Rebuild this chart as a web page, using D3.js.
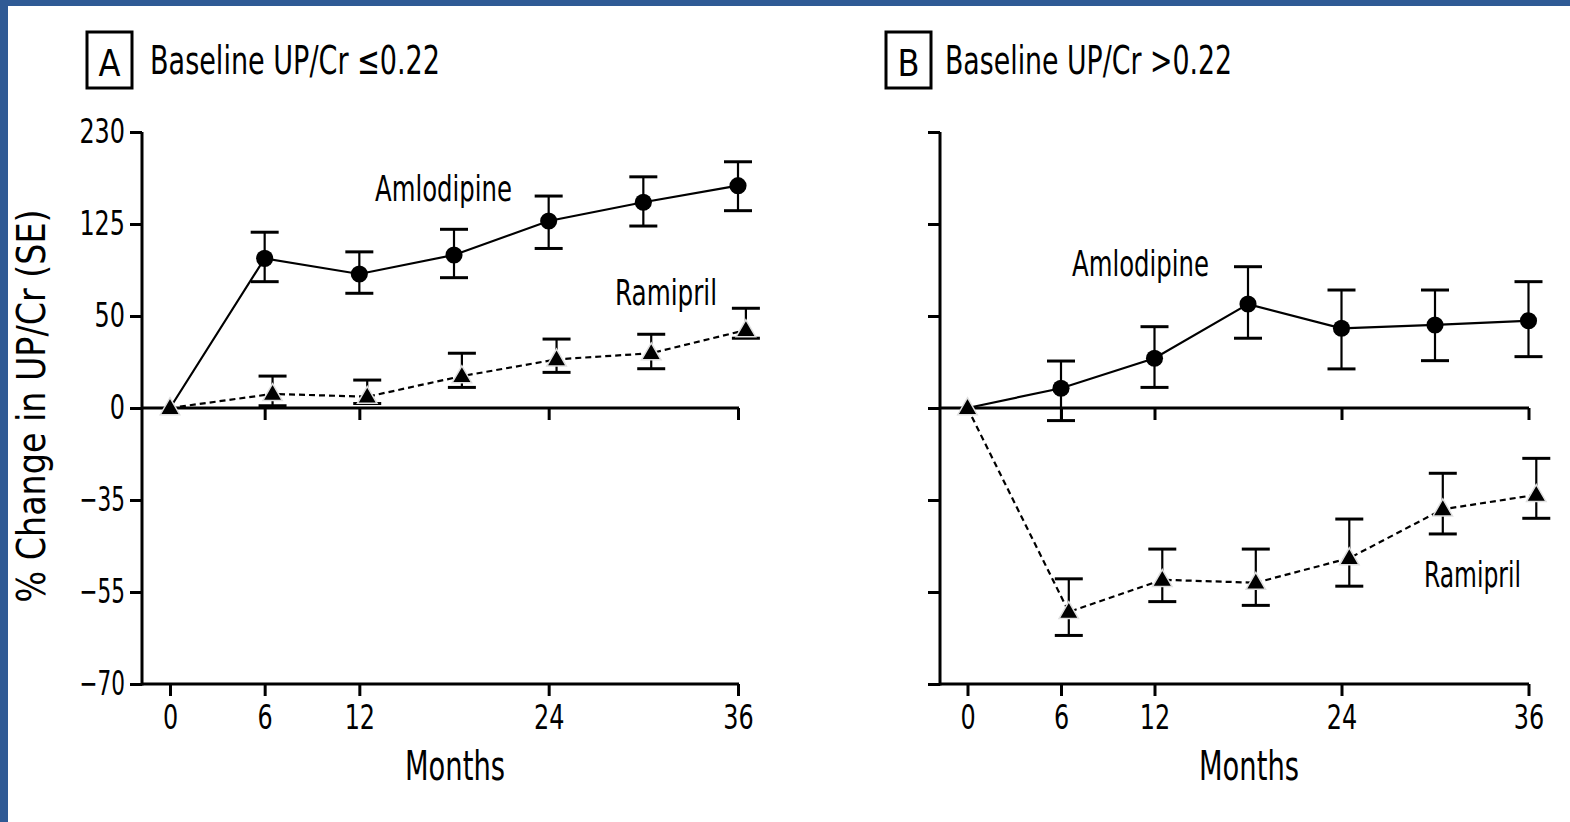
<!DOCTYPE html>
<html>
<head>
<meta charset="utf-8">
<script src="https://cdn.jsdelivr.net/npm/d3@7"></script>
<style>
  html, body { margin: 0; padding: 0; background: #fff; }
  svg { display: block; }
  text { font-family: "Liberation Sans Narrow", "Arial Narrow", "DejaVu Sans Condensed", sans-serif; fill: #000; }
</style>
</head>
<body>
<svg id="chart" width="1570" height="822"></svg>
<script>
// Visit months; ramipril points are nudged half a month right so bars don't overlap
const months = [0, 6, 12, 18, 24, 30, 36];
const ramiprilMonths = [0, 6.5, 12.5, 18.5, 24.5, 30.5, 36.5];
const axisMonths = [0, 6, 12, 24, 36];

// Log-ratio y axis: ticks at powers of 1.5 of (1 + change/100)
const yTickSteps = [3, 2, 1, 0, -1, -2, -3];
const yTickLabels = ["230", "125", "50", "0", "\u221235", "\u221255", "\u221270"];

// Panel A: baseline UP/Cr <= 0.22  (% change, upper and lower SE limits)
const amlodipineA   = [0, 93.4, 80.5, 96.3, 128.0, 147.6, 166.4];
const amlodipineAHi = [null, 117.0, 99.0, 119.8, 154.5, 177.0, 196.0];
const amlodipineALo = [null, 74.5, 65.8, 77.6, 102.0, 123.0, 138.6];
const ramiprilA     = [0, 6.4, 5.1, 15.1, 23.9, 27.3, 41.0];
const ramiprilAHi   = [null, 15.1, 13.1, 27.3, 35.5, 38.4, 55.2];
const ramiprilALo   = [null, 1.0, 2.0, 9.5, 17.0, 18.9, 36.0];

// Panel B: baseline UP/Cr > 0.22
const amlodipineB   = [0, 9.1, 24.5, 58.1, 42.1, 44.2, 46.9];
const amlodipineBHi = [null, 23.0, 43.1, 86.4, 68.2, 68.2, 74.5];
const amlodipineBLo = [null, -5.4, 9.5, 36.0, 18.8, 23.2, 25.4];
const ramiprilB     = [0, -59.3, -53.1, -53.7, -48.4, -36.0, -31.8];
const ramiprilBHi   = [null, -52.9, -46.3, -46.3, -38.7, -25.0, -19.9];
const ramiprilBLo   = [null, -63.3, -57.4, -58.1, -54.4, -42.6, -38.5];

const svg = d3.select("#chart");
svg.append("rect").attr("width", 1570).attr("height", 822).attr("fill", "#fff");
// frame strips
svg.append("rect").attr("x", 0).attr("y", 0).attr("width", 1570).attr("height", 6).attr("fill", "#2f5a95");
svg.append("rect").attr("x", 0).attr("y", 0).attr("width", 8).attr("height", 822).attr("fill", "#2f5a95");

const y = d3.scaleLog().base(1.5).domain([1.5 ** -3, 1.5 ** 3]).range([684, 132]);
const yv = v => y(1 + v / 100);

// narrow numeric labels
const narrow = sel => sel.attr("font-size", 34).attr("font-family", null)
  .attr("lengthAdjust", "spacingAndGlyphs")
  .attr("textLength", function () { return this.textContent.length * 15.2 || null; });

const panels = [
  {
    letter: "A", title: "Baseline UP/Cr \u22640.22",
    xRange: [170, 738], axisX: 142, axisEnd: 739, boxX: 87, titleX: 150, titleLen: 290,
    showYLabels: true, monthsX: 455,
    aml: [amlodipineA, amlodipineAHi, amlodipineALo],
    ram: [ramiprilA, ramiprilAHi, ramiprilALo],
    amlLabel: [375, 201, 137], ramLabel: [615, 305, 102]
  },
  {
    letter: "B", title: "Baseline UP/Cr >0.22",
    xRange: [967.5, 1528.5], axisX: 940, axisEnd: 1529, boxX: 886, titleX: 945, titleLen: 287,
    showYLabels: false, monthsX: 1249,
    aml: [amlodipineB, amlodipineBHi, amlodipineBLo],
    ram: [ramiprilB, ramiprilBHi, ramiprilBLo],
    amlLabel: [1072, 276, 137], ramLabel: [1424, 587, 97]
  }
];

panels.forEach(p => {
  const g = svg.append("g");
  const x = d3.scaleLinear().domain([0, 36]).range(p.xRange);

  // panel heading
  g.append("rect").attr("x", p.boxX).attr("y", 32).attr("width", 45).attr("height", 56)
    .attr("fill", "none").attr("stroke", "#000").attr("stroke-width", 3);
  g.append("text").attr("x", p.boxX + 22.5).attr("y", 76).attr("text-anchor", "middle")
    .attr("font-size", 38).attr("textLength", 22).attr("lengthAdjust", "spacingAndGlyphs").text(p.letter);
  g.append("text").attr("x", p.titleX).attr("y", 74).attr("font-size", 39)
    .attr("textLength", p.titleLen).attr("lengthAdjust", "spacingAndGlyphs").text(p.title);

  // y axis
  const yAxis = d3.axisLeft(y)
    .tickValues(yTickSteps.map(k => 1.5 ** k))
    .tickSize(12).tickSizeOuter(0).tickPadding(5)
    .tickFormat((d, i) => p.showYLabels ? yTickLabels[i] : "");
  const ya = g.append("g").attr("transform", `translate(${p.axisX},0)`).call(yAxis);
  ya.select(".domain").attr("stroke-width", 3).attr("d", `M0,${y.range()[0] + 1.5}V${y.range()[1]}`);
  ya.selectAll(".tick line").attr("stroke-width", 3);
  ya.selectAll(".tick text").call(narrow);

  // bottom axis
  g.append("line").attr("x1", p.axisX).attr("x2", p.axisEnd).attr("y1", 684).attr("y2", 684)
    .attr("stroke", "#000").attr("stroke-width", 3);
  const xa = g.append("g").attr("transform", "translate(0,684)")
    .call(d3.axisBottom(x).tickValues(axisMonths).tickSize(12).tickPadding(9).tickFormat(d3.format("d")));
  xa.select(".domain").remove();
  xa.selectAll(".tick line").attr("stroke-width", 3);
  xa.selectAll(".tick text").call(narrow);

  // zero reference line
  g.append("line").attr("x1", p.axisX).attr("x2", p.axisEnd).attr("y1", yv(0)).attr("y2", yv(0))
    .attr("stroke", "#000").attr("stroke-width", 3);
  const za = g.append("g").attr("transform", `translate(0,${yv(0)})`)
    .call(d3.axisBottom(x).tickValues(axisMonths.slice(1)).tickSize(12).tickFormat(""));
  za.select(".domain").remove();
  za.selectAll(".tick line").attr("stroke-width", 3);

  // axis titles
  g.append("text").attr("x", p.monthsX).attr("y", 780).attr("text-anchor", "middle")
    .attr("font-size", 41).attr("textLength", 100).attr("lengthAdjust", "spacingAndGlyphs").text("Months");

  const series = [
    { vals: p.aml, mx: months, dash: null, kind: "circle", label: "Amlodipine", pos: p.amlLabel },
    { vals: p.ram, mx: ramiprilMonths, dash: "6,4", kind: "triangle", label: "Ramipril", pos: p.ramLabel }
  ];

  series.forEach(s => {
    const pts = s.vals[0].map((v, i) => ({ m: s.mx[i], v, hi: s.vals[1][i], lo: s.vals[2][i] }));
    const line = d3.line().x(d => x(d.m)).y(d => yv(d.v));
    g.append("path").datum(pts).attr("d", line).attr("fill", "none")
      .attr("stroke", "#000").attr("stroke-width", 2.2)
      .attr("stroke-dasharray", s.dash);

    const withSE = pts.filter(d => d.hi !== null);
    const eb = g.append("g").selectAll("g").data(withSE).join("g");
    eb.append("line").attr("x1", d => x(d.m)).attr("x2", d => x(d.m))
      .attr("y1", d => yv(d.hi)).attr("y2", d => yv(d.lo))
      .attr("stroke", "#000").attr("stroke-width", 2.2);
    ["hi", "lo"].forEach(k => {
      eb.append("line").attr("x1", d => x(d.m) - 14).attr("x2", d => x(d.m) + 14)
        .attr("y1", d => yv(d[k])).attr("y2", d => yv(d[k]))
        .attr("stroke", "#000").attr("stroke-width", 3);
    });

    const markerPts = s.kind === "circle" ? withSE : pts;
    const sym = d3.symbol().type(s.kind === "circle" ? d3.symbolCircle : d3.symbolTriangle)
      .size(s.kind === "circle" ? 230 : 165);
    g.append("g").selectAll("path").data(markerPts).join("path")
      .attr("transform", d => `translate(${x(d.m)},${yv(d.v) + (s.kind === "triangle" ? 1 : 0)})`)
      .attr("d", sym).attr("fill", "#000")
      .attr("stroke", s.kind === "triangle" ? "#e0e0e0" : "none").attr("stroke-width", 1.5);

    g.append("text").attr("x", s.pos[0]).attr("y", s.pos[1]).attr("font-size", 36)
      .attr("textLength", s.pos[2]).attr("lengthAdjust", "spacingAndGlyphs").text(s.label);
  });
});

// shared y title
svg.append("text")
  .attr("transform", "translate(45,406) rotate(-90)")
  .attr("text-anchor", "middle").attr("font-size", 39)
  .attr("textLength", 393).attr("lengthAdjust", "spacingAndGlyphs")
  .text("% Change in UP/Cr (SE)");
</script>
</body>
</html>
